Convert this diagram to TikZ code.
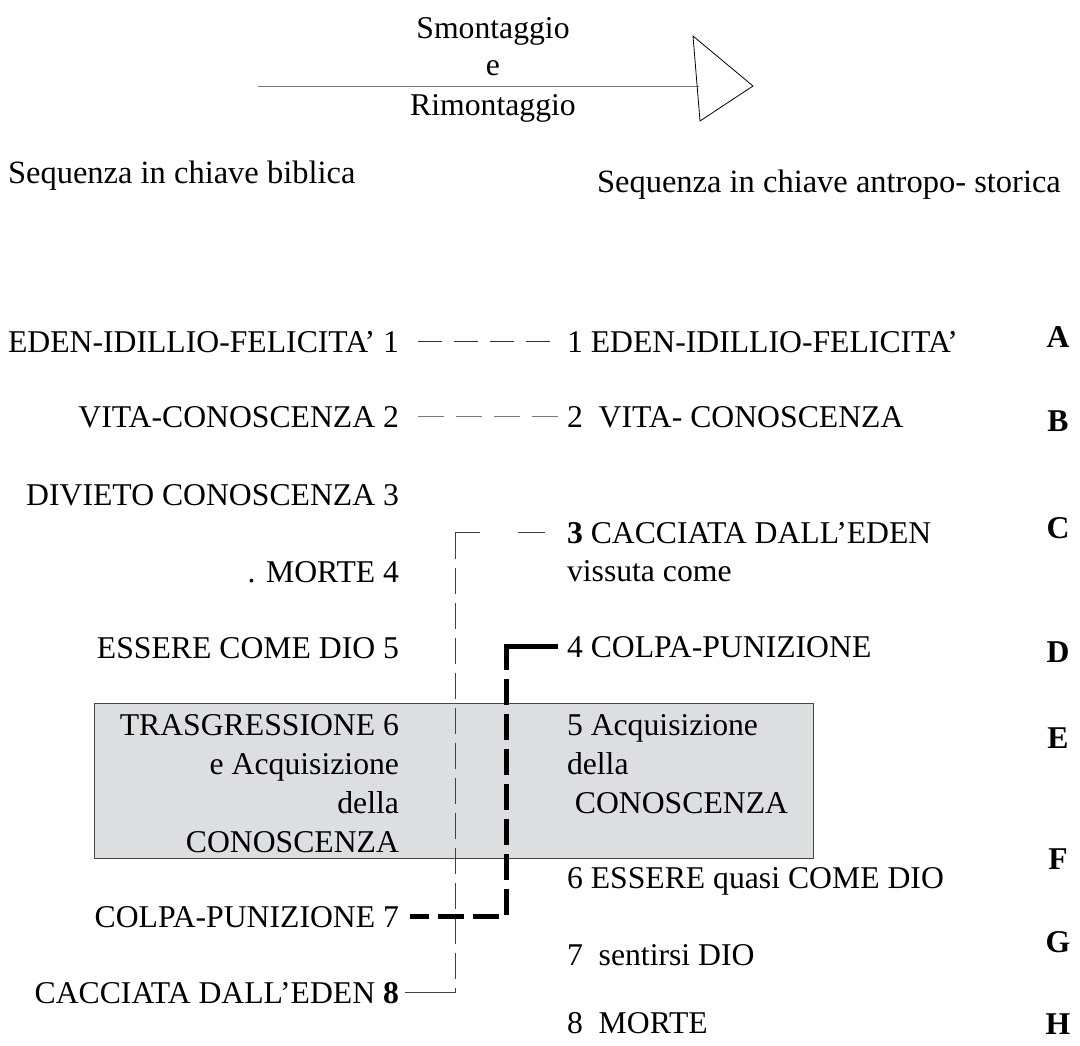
\documentclass[tikz,border=0pt]{standalone}
\usepackage{fontspec}
\setmainfont{Liberation Serif}
\definecolor{boxfill}{RGB}{221,222,224}
\definecolor{boxline}{RGB}{70,70,70}
\definecolor{lgray}{RGB}{120,120,120}
\begin{document}
\begin{tikzpicture}[x=1bp,y=-1bp,
  every node/.style={inner sep=0pt, outer sep=0pt, font=\fontsize{31.7bp}{39bp}\selectfont},
  lft/.style={anchor=base east},
  rgt/.style={anchor=base west},
  head/.style={anchor=base west, font=\fontsize{32.5bp}{39bp}\selectfont},
  letter/.style={anchor=base, font=\fontsize{31.7bp}{39bp}\selectfont\bfseries},
  dashA/.style={line width=0.9bp, black!80, dash pattern=on 24bp off 12bp},
  dashB/.style={line width=0.9bp, lgray, dash pattern=on 26bp off 12bp},
  thinline/.style={line width=0.8bp, black!75},
  thindash/.style={line width=0.8bp, black!75, dash pattern=on 26bp off 9bp},
  thickdash/.style={line width=5bp, black, dash pattern=on 26bp off 9bp},
  thickline/.style={line width=5bp, black}
]
\useasboundingbox (0,0) rectangle (1080,1046);

% top arrow
\node[anchor=base] (t1) at (493,38) {Smontaggio};
\node[anchor=base] (t2) at (493,75) {e};
\node[anchor=base] (t3) at (493,115) {Rimontaggio};
\coordinate (as) at (258,86);
\coordinate (ae) at (699,86);
\draw[line width=1bp, lgray] (as) -- (ae);
\draw[line width=0.8bp, black] (693,36) -- (753,86) -- (700,121) -- cycle;

\node[head] (hl) at (8,183) {Sequenza in chiave biblica};
\node[head] (hr) at (597,192) {Sequenza in chiave antropo- storica};

% grey box
\node[draw=boxline, line width=1bp, fill=boxfill, anchor=north west,
      minimum width=719bp, minimum height=155bp] (box) at (94,703) {};

% left column
\node[lft] (l1) at (399,352) {EDEN-IDILLIO-FELICITA’ 1};
\node[lft] (l2) at (399,427) {VITA-CONOSCENZA 2};
\node[lft] (l3) at (399,505) {DIVIETO CONOSCENZA 3};
\node[lft] (l4) at (399,582) {. MORTE 4};
\node[lft] (l5) at (399,658) {ESSERE COME DIO 5};
\node[lft] (l6a) at (399,735) {TRASGRESSIONE 6};
\node[lft] (l6b) at (399,774) {e Acquisizione};
\node[lft] (l6c) at (399,813) {della};
\node[lft] (l6d) at (399,852) {CONOSCENZA};
\node[lft] (l7) at (399,927) {COLPA-PUNIZIONE 7};
\node[lft] (l8) at (399,1003) {CACCIATA DALL’EDEN \textbf{8}};

% right column
\node[rgt] (r1) at (567,352) {1 EDEN-IDILLIO-FELICITA’};
\node[rgt] (r2) at (567,427) {2\ \ VITA- CONOSCENZA};
\node[rgt] (r3) at (567,543) {\textbf{3} CACCIATA DALL’EDEN};
\node[rgt] (r3b) at (567,581) {vissuta come};
\node[rgt] (r4) at (567,657) {4 COLPA-PUNIZIONE};
\node[rgt] (r5a) at (567,735) {5 Acquisizione};
\node[rgt] (r5b) at (567,774) {della};
\node[rgt] (r5c) at (567,813) {\ CONOSCENZA};
\node[rgt] (r6) at (567,888) {6 ESSERE quasi COME DIO};
\node[rgt] (r7) at (567,965) {7\ \ sentirsi DIO};
\node[rgt] (r8) at (567,1033) {8\ \ MORTE};

% letters
\node[letter] (A) at (1058,347) {A};
\node[letter] (B) at (1058,431) {B};
\node[letter] (C) at (1058,538) {C};
\node[letter] (D) at (1058,662) {D};
\node[letter] (E) at (1058,748) {E};
\node[letter] (F) at (1058,869) {F};
\node[letter] (G) at (1058,952) {G};
\node[letter] (H) at (1058,1034) {H};

% dashed links 1 and 2
\draw[dashA] ([xshift=19bp]l1.east) -- ([xshift=-14bp]r1.west |- l1.east);
\draw[dashB] ([xshift=19bp]l2.east) -- ([xshift=-7bp]r2.west |- l2.east);

% thin link 8 -> 3
\coordinate (vx) at (455,0);
\draw[thinline] ([xshift=6bp]l8.east) -- (l8.east -| vx);
\draw[thindash] (r3.west -| vx) -- (l8.east -| vx);
\draw[thinline, dash pattern=on 25bp off 38bp on 27bp off 10bp] (r3.west -| vx) -- ([xshift=-22bp]r3.west);

% thick link 7 -> 4
\coordinate (tx) at (506,0);
\draw[thickdash] ([yshift=2.5bp]r4.west -| tx) -- (l7.east -| tx) -- ([xshift=11bp]l7.east);
\draw[thickline] ([xshift=-2.5bp]r4.west -| tx) -- ([xshift=-9bp]r4.west);
\end{tikzpicture}
\end{document}
